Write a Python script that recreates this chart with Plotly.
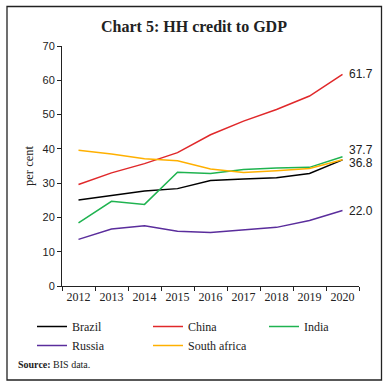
import plotly.graph_objects as go

years = ["2012", "2013", "2014", "2015", "2016", "2017", "2018", "2019", "2020"]
brazil = [25.1, 26.4, 27.7, 28.4, 30.8, 31.2, 31.6, 32.8, 36.8]
china = [29.6, 33.0, 35.7, 38.9, 44.1, 48.1, 51.5, 55.4, 61.7]
india = [18.4, 24.7, 23.8, 33.2, 32.8, 34.0, 34.4, 34.6, 37.7]
russia = [13.6, 16.6, 17.6, 16.0, 15.6, 16.4, 17.1, 19.1, 22.0]
south_africa = [39.6, 38.5, 37.1, 36.5, 34.1, 33.1, 33.6, 34.3, 36.8]

series = [
    ("Brazil", brazil, "#000000"),
    ("China", china, "#e0282a"),
    ("India", india, "#1fb350"),
    ("Russia", russia, "#5a2d9c"),
    ("South africa", south_africa, "#ffb000"),
]

SERIF = "Liberation Serif, DejaVu Serif, serif"
SANS = "Liberation Sans, Arial, sans-serif"

fig = go.Figure()
for name, vals, col in series:
    fig.add_trace(go.Scatter(x=years, y=vals, mode="lines", name=name,
                             line=dict(color=col, width=1.5)))

last = len(years) - 1
end_labels = [(china[-1], "61.7", 0), (india[-1], "37.7", 7), (brazil[-1], "36.8", -3), (russia[-1], "22.0", 0)]
for yv, txt, ys in end_labels:
    fig.add_annotation(x=last, y=yv, text=txt, showarrow=False, xanchor="left",
                       xshift=4, yshift=ys, font=dict(family=SANS, size=12, color="#222"))

W = 297.0
H = 240.0
def px(x):
    return (x - 62) / W
def py(y):
    return (286 - y) / H

fig.add_shape(type="rect", xref="paper", yref="paper", x0=px(7), x1=px(381.5), y0=py(380), y1=py(6.5),
              line=dict(color="#222", width=1.3), layer="above")

fig.add_annotation(xref="paper", yref="paper", x=px(16), y=py(364), xanchor="left", yanchor="middle",
                   text="<b>Source:</b> BIS data.", showarrow=False,
                   font=dict(family=SERIF, size=10, color="#222"))

fig.update_layout(
    width=388, height=388,
    margin=dict(l=62, r=29, t=46, b=102, autoexpand=False),
    paper_bgcolor="white", plot_bgcolor="white",
    title=dict(text="<b>Chart 5: HH credit to GDP</b>", x=0.5, xanchor="center",
               y=1 - 26 / 388, yanchor="middle", xref="container", yref="container",
               font=dict(family=SERIF, size=16, color="#222")),
    showlegend=True,
    legend=dict(orientation="h", x=px(32), y=py(312),
                xanchor="left", yanchor="top", entrywidth=71, entrywidthmode="pixels",
                font=dict(family=SERIF, size=12, color="#222"), tracegroupgap=0,
                itemwidth=30, bgcolor="rgba(0,0,0,0)"),
    xaxis=dict(type="category", showline=True, linecolor="#222", linewidth=1, ticks="outside",
               tickson="boundaries", ticklen=4, tickcolor="#222", showgrid=False, zeroline=False,
               tickangle=0, tickfont=dict(family=SERIF, size=12, color="#222"), range=[-0.5, 8.5]),
    yaxis=dict(range=[0, 70], dtick=10, showline=True, linecolor="#222", linewidth=1,
               ticks="outside", ticklen=4, tickcolor="#222", showgrid=False, zeroline=False,
               tickfont=dict(family=SANS, size=11, color="#222"),
               title=dict(text="per cent", font=dict(family=SERIF, size=12.5, color="#222"), standoff=6)),
)

fig.write_html("out.html", config={"displayModeBar": False},
               post_script="document.body.style.margin='0';")
